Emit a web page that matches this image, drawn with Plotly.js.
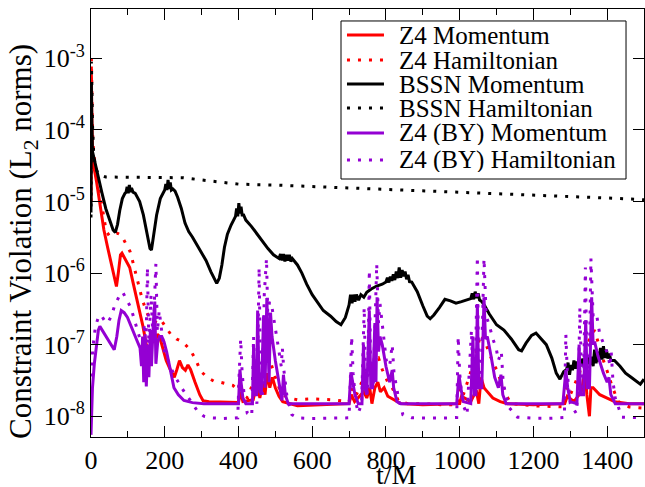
<!DOCTYPE html>
<html>
<head>
<meta charset="utf-8">
<script src="https://cdn.plot.ly/plotly-3.0.1.min.js"></script>
<style>html,body{margin:0;padding:0;background:#fff;}#chart{width:645px;height:487px;}</style>
</head>
<body>
<div id="chart"></div>
<script>
// ---------- data ----------
const z4MomT = [0,1,2,4,8,15,25,35,45,55,63,69,74,80,84,92,105,115,123,132,141,150,155,160,168,175,180,186,195,204,215,226,233,240,248,256,263,270,282,295,304,320,350,400,405,412,440,445,452,458,466,472,478,485,492,500,510,520,560,620,700,706,715,740,748,756,762,770,778,785,795,805,820,840,900,1000,1005,1030,1045,1052,1058,1066,1072,1090,1110,1130,1200,1285,1292,1310,1330,1340,1345,1352,1356,1362,1380,1400,1420,1460,1500];
const z4MomV = [1e-5,6e-4,2e-4,4.5e-5,3e-5,1.9e-5,9e-6,4e-6,2.3e-6,1.3e-6,8.5e-7,6.5e-7,1e-6,1.8e-6,1.9e-6,1.6e-6,1.2e-6,7e-7,4.6e-7,2.8e-7,1.8e-7,1e-7,7.5e-8,9e-8,1.15e-7,1.1e-7,1.4e-7,1.3e-7,9e-8,6e-8,4.5e-8,3.5e-8,4.5e-8,6e-8,4.8e-8,4.4e-8,5.2e-8,4.5e-8,3e-8,2e-8,1.65e-8,1.6e-8,1.58e-8,1.55e-8,2.2e-8,1.6e-8,1.7e-8,2.2e-8,2.8e-8,1.8e-8,3e-8,2e-8,4e-8,2.5e-8,3.5e-8,2.5e-8,1.9e-8,1.6e-8,1.4e-8,1.45e-8,1.5e-8,2e-8,1.6e-8,2.2e-8,1.8e-8,2.5e-8,1.5e-8,2.5e-8,3e-8,2.2e-8,2.5e-8,1.9e-8,1.7e-8,1.5e-8,1.45e-8,1.5e-8,1.9e-8,1.6e-8,2.3e-8,1.5e-8,3.5e-8,2.5e-8,2.3e-8,1.8e-8,1.6e-8,1.5e-8,1.45e-8,1.5e-8,1.9e-8,1.6e-8,2.2e-8,4.4e-8,2e-8,1e-8,2.5e-8,2.5e-8,2e-8,1.8e-8,1.6e-8,1.5e-8,1.5e-8];

const z4HamT = [0,1,2,3,5,8,15,25,35,41,50,60,72,82,90,100,106,114,126,138,149,158,167,180,190,198,216,232,248,260,270,285,297,315,333,350,369,385,398,405,412,425,440,452,462,470,478,485,491,500,510,520,535,560,600,650,700,708,720,740,755,770,780,790,805,817,835,860,900,950,995,1000,1010,1035,1048,1057,1066,1075,1088,1100,1112,1125,1140,1200,1280,1290,1300,1325,1340,1355,1366,1375,1390,1402,1415,1430,1460,1500];
const z4HamV = [1e-5,1e-3,5e-4,2e-4,7e-5,4.4e-5,2.5e-5,1.2e-5,6e-6,3.9e-6,3.3e-6,3.4e-6,3.6e-6,3.4e-6,2.8e-6,2.3e-6,2e-6,1.4e-6,8e-7,4.5e-7,3e-7,2.4e-7,2.2e-7,2e-7,2.2e-7,1.9e-7,1.4e-7,1.2e-7,1.1e-7,9.5e-8,8.4e-8,6e-8,4.3e-8,3.5e-8,3.1e-8,3e-8,2.8e-8,2.7e-8,2.3e-8,3e-8,2e-8,1.8e-8,3e-8,5e-8,3.5e-8,6e-8,8e-8,6e-8,5e-8,3.5e-8,2.5e-8,2e-8,1.8e-8,1.7e-8,1.75e-8,1.7e-8,1.6e-8,2.5e-8,2e-8,3.5e-8,5e-8,6e-8,6.5e-8,4.5e-8,3e-8,2.5e-8,1.6e-8,1.5e-8,1.5e-8,1.45e-8,1.45e-8,2.5e-8,2e-8,5e-8,9e-8,1.4e-7,1.2e-7,9e-8,6e-8,4.5e-8,3e-8,2e-8,1.5e-8,1.4e-8,1.35e-8,2.5e-8,2e-8,4e-8,8e-8,1.3e-7,1.6e-7,1.1e-7,6e-8,4e-8,2.5e-8,1.6e-8,1.35e-8,1.3e-8];

// BSSN momentum as [t, value] pairs
const bssnMom = [[0,7e-6],[1,4.5e-4],[2,1.5e-4],[4,5e-5],[8,4e-5],[15,3e-5],[22,2e-5],[30,1.3e-5],[40,8e-6],[50,5.5e-6],[60,4e-6],[66,3.7e-6],[72,4.8e-6],[78,7.5e-6],[85,1.1e-5],[92,1.3e-5],[95,1.35e-5],[98,1.6e-5],[101,1.3e-5],[104,1.7e-5],[107,1.35e-5],[110,1.55e-5],[114,1.35e-5],[120,1.3e-5],[132,1e-5],[142,6.5e-6],[152,3.3e-6],[160,2.2e-6],[164,2.1e-6],[170,3.5e-6],[178,6.5e-6],[188,1.1e-5],[196,1.35e-5],[200,1.45e-5],[203,1.75e-5],[206,1.45e-5],[209,2e-5],[212,1.5e-5],[215,1.85e-5],[218,1.45e-5],[222,1.5e-5],[228,1.4e-5],[235,1.15e-5],[245,8e-6],[255,5e-6],[265,3.8e-6],[275,3.2e-6],[285,2.6e-6],[300,2e-6],[312,1.5e-6],[325,1.05e-6],[335,8e-7],[341,7.2e-7],[348,8.5e-7],[355,1.3e-6],[362,2.3e-6],[370,3.5e-6],[380,4.7e-6],[388,5.6e-6],[392,6.2e-6],[395,8e-6],[398,6.2e-6],[401,9.5e-6],[404,6.8e-6],[407,8.5e-6],[410,6.5e-6],[414,6.5e-6],[420,5.5e-6],[435,4.5e-6],[450,3.5e-6],[465,2.8e-6],[480,2.2e-6],[495,1.8e-6],[505,1.65e-6],[510,1.6e-6],[514,1.85e-6],[518,1.5e-6],[522,1.85e-6],[526,1.45e-6],[530,1.8e-6],[534,1.5e-6],[538,1.8e-6],[542,1.45e-6],[546,1.6e-6],[552,1.45e-6],[560,1.3e-6],[572,1e-6],[585,7e-7],[600,5e-7],[615,3.8e-7],[630,3e-7],[650,2.5e-7],[665,2.1e-7],[678,1.9e-7],[690,2.4e-7],[700,3.6e-7],[704,5e-7],[708,3.8e-7],[712,5e-7],[716,4e-7],[720,5e-7],[726,4.2e-7],[732,5e-7],[740,4.6e-7],[748,5.4e-7],[760,6e-7],[775,6.6e-7],[790,7e-7],[800,7.5e-7],[804,8.6e-7],[808,7.4e-7],[812,8.9e-7],[816,7.8e-7],[820,9.6e-7],[824,8e-7],[828,1.05e-6],[832,8.5e-7],[836,1.2e-6],[840,8.6e-7],[844,1.1e-6],[848,9e-7],[852,1.05e-6],[856,8.2e-7],[860,9.5e-7],[864,7.6e-7],[870,7.5e-7],[885,5.5e-7],[900,3.5e-7],[912,2.5e-7],[920,2.3e-7],[930,2.6e-7],[945,3.3e-7],[960,4.3e-7],[975,4.1e-7],[990,3.8e-7],[1005,4e-7],[1020,4.3e-7],[1030,4.4e-7],[1034,5.2e-7],[1038,4.3e-7],[1042,5.5e-7],[1046,4.5e-7],[1050,5.2e-7],[1054,4.2e-7],[1060,4e-7],[1068,3.5e-7],[1080,2.7e-7],[1100,1.9e-7],[1120,1.6e-7],[1140,1.2e-7],[1160,8.5e-8],[1168,8.2e-8],[1180,1.05e-7],[1195,1.35e-7],[1207,1.45e-7],[1220,1.2e-7],[1235,1e-7],[1250,6.5e-8],[1262,4e-8],[1272,3.3e-8],[1282,4.2e-8],[1290,4.5e-8],[1294,5.6e-8],[1298,3.8e-8],[1302,5.2e-8],[1306,4.4e-8],[1310,6e-8],[1314,4.6e-8],[1318,5.8e-8],[1322,4.8e-8],[1326,6.2e-8],[1330,5e-8],[1334,6.4e-8],[1338,5e-8],[1342,6.6e-8],[1346,5.4e-8],[1350,7e-8],[1354,5.2e-8],[1358,6.8e-8],[1362,5e-8],[1366,8.5e-8],[1370,5.5e-8],[1374,8e-8],[1378,5.8e-8],[1382,9e-8],[1386,6.2e-8],[1390,9.5e-8],[1394,6.5e-8],[1398,8.5e-8],[1402,6.4e-8],[1406,7.5e-8],[1410,6e-8],[1420,6e-8],[1435,5e-8],[1450,4e-8],[1465,3.5e-8],[1480,3.1e-8],[1490,2.8e-8],[1500,3.3e-8]];
const bssnMomT = bssnMom.map(p => p[0]);
const bssnMomV = bssnMom.map(p => p[1]);

const bssnHamT = [0,1,2,4,7,12,20,40,100,200,250,300,350,400,450,500,600,700,800,900,1000,1100,1200,1300,1400,1500];
const bssnHamV = [6e-6,9e-4,5e-4,1.2e-4,5e-5,3e-5,2.4e-5,2.2e-5,2.2e-5,2.2e-5,2.15e-5,2e-5,1.88e-5,1.75e-5,1.72e-5,1.7e-5,1.62e-5,1.55e-5,1.48e-5,1.42e-5,1.36e-5,1.3e-5,1.24e-5,1.18e-5,1.12e-5,1.06e-5];

const byMomT = [0,4,9,15,20,24,30,36,45,55,63,70,76,82,90,99,110,120,126,133,137,140,143,147,150,154,157,161,164,169,173,176,181,186,192,198,205,215,225,237,252,275,306,400,404,407,412,420,438,441,444,449,452,456,462,468,472,477,480,483,487,491,500,510,518,522,527,535,700,705,710,716,725,735,739,743,748,755,759,764,770,773,776,780,784,790,800,810,817,821,830,840,992,998,1003,1010,1030,1036,1040,1044,1048,1052,1060,1066,1070,1075,1085,1095,1105,1112,1117,1126,1280,1288,1293,1300,1318,1324,1328,1336,1342,1346,1352,1358,1362,1366,1375,1390,1400,1405,1410,1422,1500];
const byMomV = [5.5e-9,2.5e-8,5.4e-8,1.1e-7,1.6e-7,1.8e-7,1.6e-7,1.4e-7,1.2e-7,9.5e-8,8.5e-8,1.3e-7,2.2e-7,3e-7,2.8e-7,2.4e-7,1.7e-7,1.3e-7,1.1e-7,9e-8,5e-8,1.3e-7,3e-8,1.4e-7,2.6e-8,1e-7,3.5e-8,1.6e-7,5e-8,2e-7,4e-7,5.4e-8,1.1e-7,1.3e-7,1.3e-7,1.1e-7,8e-8,4.5e-8,2.5e-8,2e-8,1.66e-8,1.55e-8,1.5e-8,1.5e-8,4.5e-8,3e-8,1.8e-8,1.5e-8,1.5e-8,1e-7,2e-8,2e-8,3e-7,2.5e-8,2e-8,2.5e-7,2.5e-8,4.5e-7,1.5e-7,3e-8,2.8e-7,1.3e-7,6e-8,2.8e-8,1.66e-8,3.8e-8,2e-8,1.5e-8,1.5e-8,4.1e-8,3e-8,2e-8,1.5e-8,1.5e-8,1e-7,2.5e-8,2e-8,3e-7,2.5e-8,2.5e-8,2e-7,3e-8,4.6e-7,8e-8,1.3e-7,1e-7,5e-8,3e-8,4.4e-8,2.5e-8,1.6e-8,1.5e-8,1.5e-8,3.8e-8,2.5e-8,1.6e-8,1.5e-8,1.3e-7,2e-8,2e-8,3.7e-7,2.5e-8,2.5e-8,4.6e-7,1.2e-7,1.3e-7,7e-8,3.5e-8,2.5e-8,3.8e-8,2e-8,1.5e-8,1.5e-8,4.4e-8,2.5e-8,1.6e-8,1.5e-8,1e-7,2e-8,2e-8,2.2e-7,2.5e-8,2.5e-8,4.6e-7,1e-7,1.1e-7,7e-8,4e-8,3e-8,3.5e-8,2e-8,1.5e-8,1.5e-8];

const byHamT = [0,5,12,20,27,36,45,55,64,72,80,86,95,108,118,126,134,140,145,149,153,157,163,168,176,180,185,198,212,225,248,270,288,306,325,360,398,402,406,410,416,424,436,441,445,450,456,460,465,470,476,480,484,491,500,510,516,519,523,532,545,560,600,650,700,704,707,711,718,725,734,741,745,750,755,759,766,775,780,784,792,801,810,817,822,834,846,870,950,992,996,1000,1008,1020,1032,1036,1042,1048,1052,1058,1066,1072,1080,1090,1099,1105,1113,1118,1125,1135,1157,1200,1250,1284,1288,1292,1300,1316,1322,1326,1331,1336,1341,1346,1351,1356,1362,1371,1380,1392,1402,1408,1411,1416,1422,1440,1500];
const byHamV = [3.6e-8,9e-8,1.8e-7,2.4e-7,2.6e-7,2.2e-7,2e-7,2.5e-7,3.5e-7,4.3e-7,5.2e-7,5.4e-7,4.5e-7,3.3e-7,2.2e-7,1.6e-7,1.2e-7,9e-8,2e-7,8e-8,1.2e-6,1e-7,5e-7,1.2e-7,1.35e-6,1.5e-7,3e-7,8.4e-8,5.5e-8,3.8e-8,2.4e-8,1.6e-8,1.2e-8,1e-8,9.5e-9,9.3e-9,9.5e-9,4e-8,1.2e-7,4e-8,1.8e-8,1.1e-8,1e-8,1.3e-7,2e-8,1.5e-8,1.2e-6,3e-8,2e-8,5e-7,1.6e-6,2e-7,4e-7,3.3e-7,1.8e-7,8e-8,5e-8,9e-8,4.5e-8,1.8e-8,1.05e-8,9.5e-9,9.3e-9,9.4e-9,9.5e-9,4e-8,1.3e-7,4e-8,1.6e-8,1.1e-8,1.5e-8,3.3e-7,3e-8,2e-8,1.1e-6,3e-8,3e-8,1.35e-6,2e-7,3.7e-7,1.5e-7,6e-8,5e-8,1e-7,4e-8,1.8e-8,1.05e-8,9.5e-9,9.4e-9,9.6e-9,1.3e-7,4e-8,1.5e-8,1.05e-8,1.6e-7,3e-8,2.5e-8,1.7e-6,3e-8,3e-8,1.6e-6,2.5e-7,1.9e-7,1.2e-7,9e-8,6e-8,8e-8,3e-8,2e-8,1.3e-8,9.7e-9,9.4e-9,9.4e-9,9.6e-9,1.4e-7,4e-8,1.5e-8,1.1e-8,2.5e-8,3.3e-7,3e-8,2.5e-8,1.2e-6,3e-8,3e-8,1.6e-6,2.5e-7,2.7e-7,1.4e-7,1e-7,7.3e-8,5e-8,8e-8,3e-8,1.8e-8,9.7e-9,9.5e-9];

const seriesNames = ['Z4 Momentum','Z4 Hamiltonian','BSSN Momentum','BSSN Hamiltonian','Z4 (BY) Momentum','Z4 (BY) Hamiltonian'];
const seriesX = [z4MomT, z4HamT, bssnMomT, bssnHamT, byMomT, byHamT];
const seriesY = [z4MomV, z4HamV, bssnMomV, bssnHamV, byMomV, byHamV];
const yTickVals = [1e-8,1e-7,1e-6,1e-5,1e-4,1e-3];
const yTickText = ['10<sup>-8</sup>','10<sup>-7</sup>','10<sup>-6</sup>','10<sup>-5</sup>','10<sup>-4</sup>','10<sup>-3</sup>'];
const xTitle = 't/M';
const yTitle = 'Constraint Violation (L<sub>2</sub> norms)';

// ---------- styles ----------
const colors = ['#ff0000','#ff0000','#000000','#000000','#9400d3','#9400d3'];
const dashes = ['solid','3px,8px','solid','3px,8px','solid','3px,8px'];
const FONT = 'Liberation Serif, Times New Roman, serif';

const traces = seriesNames.map((n, i) => ({
  type: 'scatter', mode: 'lines', name: n,
  x: seriesX[i], y: seriesY[i],
  line: {color: colors[i], width: 3, dash: dashes[i]},
  showlegend: false, hoverinfo: 'skip'
}));

// custom legend (paper coordinates of the plot area)
const legRowY = [0.9393, 0.8808, 0.8248, 0.7687, 0.7103, 0.6472];
const shapes = [{type:'rect', xref:'paper', yref:'paper', x0:0.4521, x1:0.9675, y0:0.6028, y1:0.972,
                 line:{color:'#000', width:1}, fillcolor:'#fff', layer:'above'}];
const annotations = [];
seriesNames.forEach((n, i) => {
  shapes.push({type:'line', xref:'paper', yref:'paper', x0:0.4629, x1:0.5298, y0:legRowY[i], y1:legRowY[i],
               line:{color:colors[i], width:3, dash:dashes[i]}, layer:'above'});
  annotations.push({xref:'paper', yref:'paper', x:0.5552, y:legRowY[i], xanchor:'left', yanchor:'middle',
                    height:24, borderpad:0,
                    text:n, showarrow:false, font:{family:FONT, size:25, color:'#000'}});
});
// axis titles placed as in the reference
annotations.push({xref:'paper', yref:'paper', x:0.5533, y:-0.1168, xanchor:'center', yanchor:'bottom',
                  height:24, borderpad:0,
                  text:xTitle, showarrow:false, font:{family:FONT, size:28, color:'#000'}});
annotations.push({xref:'paper', yref:'paper', x:-0.1230, y:0.458, xanchor:'center', yanchor:'middle',
                  textangle:-90, text:yTitle, showarrow:false, font:{family:FONT, size:31, color:'#000'}});

const layout = {
  width: 645, height: 487,
  margin: {l: 91, r: 1, t: 9, b: 50},
  paper_bgcolor: '#fff', plot_bgcolor: '#fff',
  font: {family: FONT, color: '#000'},
  showlegend: false,
  xaxis: {
    range: [0, 1500], tick0: 0, dtick: 200,
    ticks: 'inside', ticklen: 11, tickwidth: 1, tickcolor: '#000',
    minor: {dtick: 100, ticks: 'inside', ticklen: 6, tickwidth: 1, tickcolor: '#000'},
    showline: true, linecolor: '#000', linewidth: 1, mirror: 'ticks',
    showgrid: false, zeroline: false,
    tickfont: {family: FONT, size: 26, color: '#000'}
  },
  yaxis: {
    type: 'log', range: [-8.29, -2.31],
    tickvals: yTickVals, ticktext: yTickText,
    ticks: 'inside', ticklen: 11, tickwidth: 1, tickcolor: '#000',
    showline: true, linecolor: '#000', linewidth: 1, mirror: 'ticks',
    showgrid: false, zeroline: false,
    tickfont: {family: FONT, size: 26, color: '#000'}
  },
  shapes: shapes,
  annotations: annotations
};

Plotly.newPlot('chart', traces, layout, {staticPlot: true, displayModeBar: false});
</script>
</body>
</html>
